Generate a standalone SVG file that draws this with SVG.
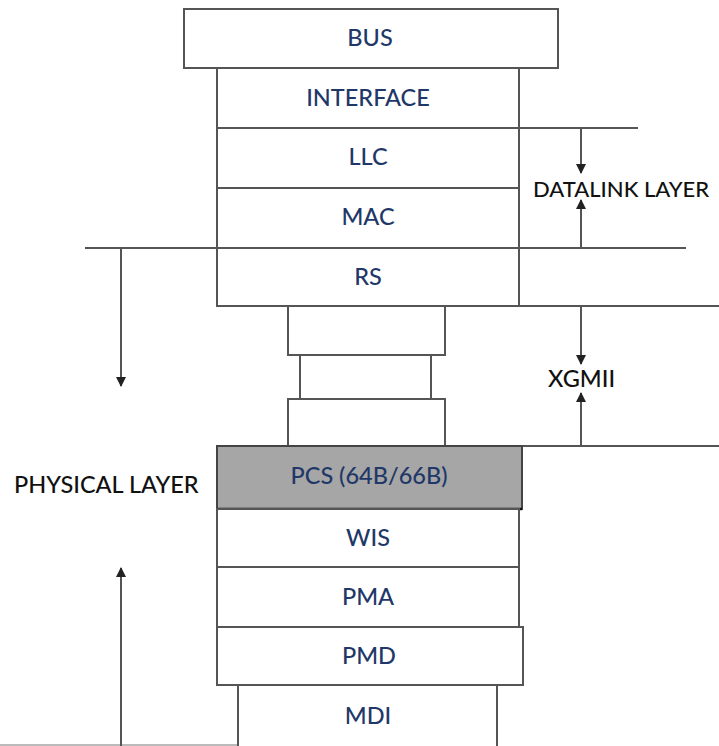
<svg xmlns="http://www.w3.org/2000/svg" width="719" height="746" viewBox="0 0 719 746">
<defs>
<style>
.box{fill:#fff;stroke:#555;stroke-width:2}
.lbl{font-family:Lato,"Open Sans",sans-serif;font-size:23.5px;font-weight:500;fill:#1f3868;text-anchor:middle;dominant-baseline:central}
.side{font-family:Lato,"Open Sans",sans-serif;font-size:23.5px;font-weight:500;fill:#111;dominant-baseline:central}
.ln{stroke:#555;stroke-width:2;fill:none}
</style>
<marker id="ah" viewBox="0 0 10 10" refX="9" refY="5" markerWidth="5" markerHeight="5" orient="auto-start-reverse">
<path d="M0,0 L10,5 L0,10 z" fill="#222"/>
</marker>
</defs>
<rect width="719" height="746" fill="#fff"/>
<g id="connectors">
<line class="ln" x1="519" y1="128" x2="638" y2="128"/>
<line class="ln" x1="85" y1="248" x2="686" y2="248"/>
<line class="ln" x1="519" y1="306" x2="719" y2="306"/>
<line class="ln" x1="445" y1="446" x2="719" y2="446"/>
<line x1="0" y1="745" x2="377" y2="745" stroke="#bbb" stroke-width="2"/>
<line class="ln" x1="581" y1="128" x2="581" y2="173" marker-end="url(#ah)"/>
<line class="ln" x1="581" y1="248" x2="581" y2="200" marker-end="url(#ah)"/>
<line class="ln" x1="581" y1="306" x2="581" y2="364" marker-end="url(#ah)"/>
<line class="ln" x1="581" y1="446" x2="581" y2="393" marker-end="url(#ah)"/>
<line class="ln" x1="121" y1="248" x2="121" y2="386" marker-end="url(#ah)"/>
<line class="ln" x1="121" y1="746" x2="121" y2="568" marker-end="url(#ah)"/>
</g>
<g id="bus"><rect class="box" x="184" y="9" width="374" height="59"/><text class="lbl" x="370" y="37">BUS</text></g>
<g id="interface"><rect class="box" x="217" y="68" width="302" height="60"/><text class="lbl" x="368" y="97">INTERFACE</text></g>
<g id="llc"><rect class="box" x="217" y="128" width="302" height="60"/><text class="lbl" x="368" y="156">LLC</text></g>
<g id="mac"><rect class="box" x="217" y="188" width="302" height="60"/><text class="lbl" x="368" y="216">MAC</text></g>
<g id="rs"><rect class="box" x="217" y="248" width="302" height="58"/><text class="lbl" x="368" y="276">RS</text></g>
<g id="xg1"><rect class="box" x="288" y="306" width="157" height="49"/></g>
<g id="xg2"><rect class="box" x="300" y="355" width="131" height="44"/></g>
<g id="xg3"><rect class="box" x="288" y="399" width="157" height="47"/></g>
<g id="pcs"><rect x="217" y="446" width="305" height="63" fill="#a6a6a6" stroke="#444" stroke-width="2"/><line x1="217" y1="509" x2="522" y2="509" stroke="#111" stroke-width="2.5"/><text class="lbl" x="369" y="475">PCS (64B/66B)</text></g>
<g id="wis"><rect class="box" x="217" y="509" width="302" height="58"/><text class="lbl" x="368" y="537">WIS</text></g>
<g id="pma"><rect class="box" x="217" y="567" width="302" height="60"/><text class="lbl" x="368" y="596">PMA</text></g>
<g id="pmd"><rect class="box" x="217" y="627" width="306" height="58"/><text class="lbl" x="369" y="655">PMD</text></g>
<g id="mdi"><rect class="box" x="238" y="685" width="259" height="70"/><text class="lbl" x="368" y="715">MDI</text></g>
<g id="datalink-label"><text class="side" x="533" y="188" style="font-size:22px">DATALINK LAYER</text></g>
<g id="xgmii-label"><text class="side" x="548" y="378">XGMII</text></g>
<g id="physical-label"><text class="side" x="14" y="484">PHYSICAL LAYER</text></g>
</svg>
